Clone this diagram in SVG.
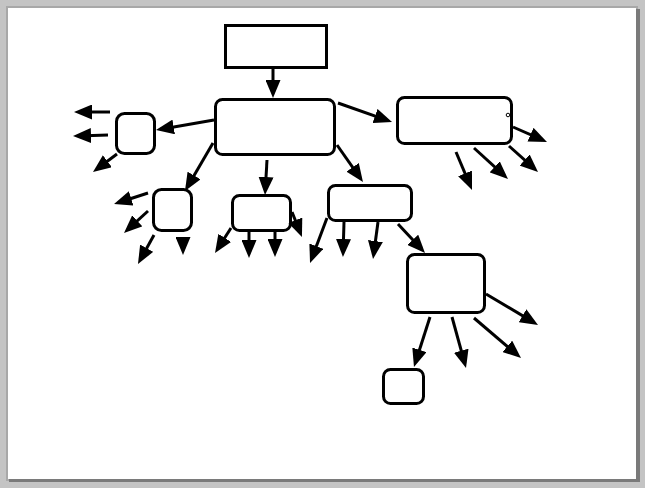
<svg xmlns="http://www.w3.org/2000/svg" width="645" height="488" viewBox="0 0 645 488">
<style>
.n{fill:#fff;stroke:#000;stroke-width:3}
.c line{stroke:#000;stroke-width:3;marker-end:url(#ah)}
</style>
<defs>
<marker id="ah" markerUnits="userSpaceOnUse" viewBox="0 0 18 15" refX="13" refY="7.5" markerWidth="18" markerHeight="15" orient="auto">
<path d="M0,0 L18,7.5 L0,15 Z" fill="#000"/>
</marker>
</defs>
<rect x="0" y="0" width="645" height="488" fill="#c4c4c4"/>
<rect x="6" y="6" width="632" height="475" fill="#a8a8a8"/>
<rect x="9" y="9" width="631" height="473" fill="#7a7a7a"/>
<rect x="8" y="8" width="628" height="471" fill="#fff"/>
<g id="top"><rect class="n" x="225.5" y="25.5" width="101" height="42"/></g>
<g id="main"><rect class="n" x="215.5" y="99.5" width="119" height="55" rx="7"/></g>
<g id="left"><rect class="n" x="116.5" y="113.5" width="38" height="40" rx="8"/></g>
<g id="n2"><rect class="n" x="153.5" y="189.5" width="38" height="41" rx="8"/></g>
<g id="n3"><rect class="n" x="232.5" y="195.5" width="58" height="35" rx="7"/></g>
<g id="n4"><rect class="n" x="328.5" y="185.5" width="83" height="35" rx="7"/></g>
<g id="right"><rect class="n" x="397.5" y="97.5" width="114" height="46" rx="7"/><circle cx="508" cy="115" r="1.8" fill="none" stroke="#000" stroke-width="1"/></g>
<g id="n5"><rect class="n" x="407.5" y="254.5" width="77" height="58" rx="7"/></g>
<g id="n6"><rect class="n" x="383.5" y="369.5" width="40" height="34" rx="7"/></g>
<g class="c" id="connectors">
<line x1="273" y1="69" x2="273" y2="93"/>
<line x1="214" y1="120" x2="160.9" y2="129.2"/>
<line x1="110" y1="112" x2="79" y2="112"/>
<line x1="108" y1="135" x2="78" y2="135.9"/>
<line x1="117" y1="154" x2="97" y2="169"/>
<line x1="213" y1="143" x2="187.5" y2="186.7"/>
<line x1="148" y1="193" x2="118.8" y2="202.5"/>
<line x1="148" y1="211" x2="127.7" y2="229.6"/>
<line x1="154" y1="235" x2="140.4" y2="259.6"/>
<line x1="183" y1="238" x2="183" y2="250"/>
<line x1="267" y1="160" x2="265.3" y2="190"/>
<line x1="231" y1="228" x2="217.7" y2="248.8"/>
<line x1="249" y1="232" x2="249" y2="253"/>
<line x1="275" y1="232" x2="275" y2="252"/>
<line x1="292" y1="212" x2="300.1" y2="232.4"/>
<line x1="337" y1="145" x2="360.1" y2="177.9"/>
<line x1="338" y1="103" x2="387.3" y2="120.3"/>
<line x1="513" y1="127" x2="542.4" y2="139.9"/>
<line x1="509" y1="146" x2="534.3" y2="168.7"/>
<line x1="474" y1="148" x2="504.3" y2="175.6"/>
<line x1="456" y1="152" x2="470.1" y2="185.4"/>
<line x1="327" y1="218" x2="311.8" y2="258.3"/>
<line x1="344" y1="222" x2="343.1" y2="252"/>
<line x1="378" y1="222" x2="373.7" y2="254"/>
<line x1="398" y1="224" x2="421.6" y2="249.3"/>
<line x1="486" y1="294" x2="533.7" y2="322.4"/>
<line x1="474" y1="318" x2="517.2" y2="354.8"/>
<line x1="452" y1="317" x2="464.7" y2="363.2"/>
<line x1="430" y1="317" x2="415.5" y2="362.2"/>
</g>
</svg>
